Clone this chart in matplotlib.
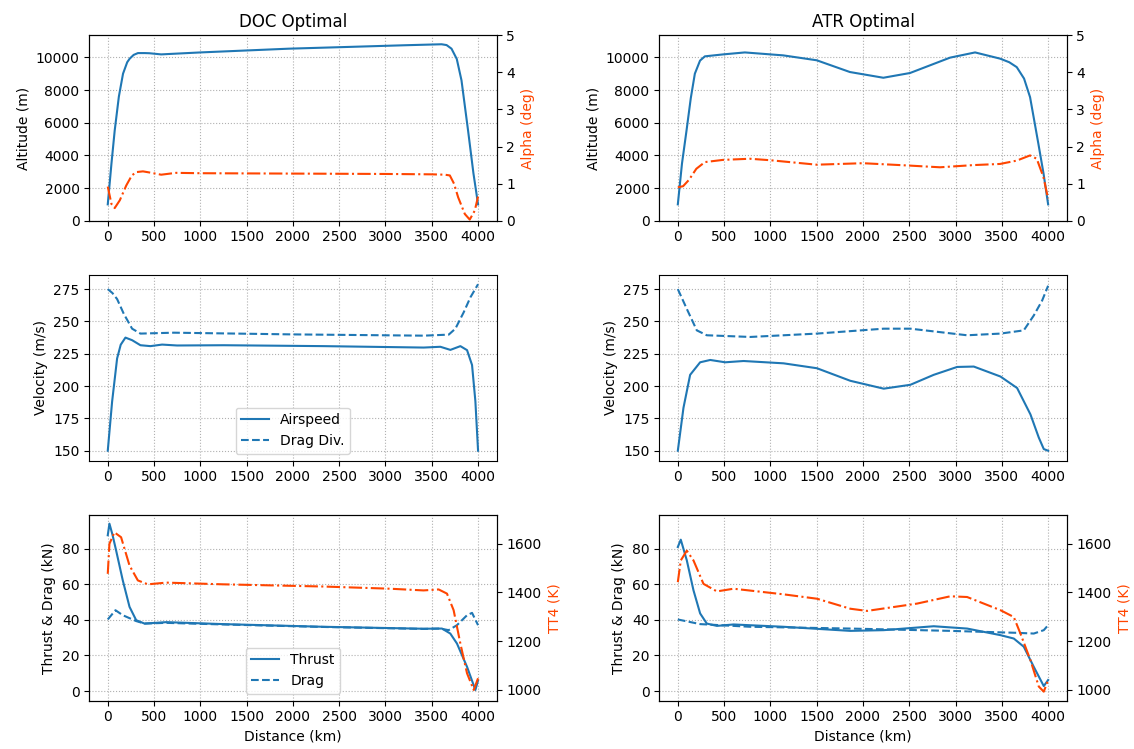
import numpy as np
import matplotlib
matplotlib.use('Agg')
import matplotlib.pyplot as plt

# ---- DOC optimal ----
doc_alt_x = [0, 40, 75, 120, 165, 210, 237, 280, 326, 400, 450, 577, 1000, 1957, 2500, 3211, 3606, 3660, 3713, 3770, 3821, 3892, 3950, 4000]
doc_alt = [1000, 3500, 5520, 7600, 9000, 9700, 9920, 10150, 10260, 10260, 10250, 10180, 10300, 10530, 10620, 10740, 10800, 10750, 10530, 9900, 8590, 5520, 2900, 1000]
doc_alpha_x = [0, 40, 75, 130, 200, 260, 308, 380, 450, 577, 738, 1000, 2000, 3000, 3500, 3642, 3695, 3740, 3785, 3857, 3910, 3964, 4000]
doc_alpha = [0.92, 0.45, 0.34, 0.55, 0.95, 1.22, 1.31, 1.33, 1.30, 1.24, 1.29, 1.28, 1.27, 1.26, 1.25, 1.24, 1.22, 1.0, 0.63, 0.18, 0.03, 0.27, 0.65]

doc_vel_x = [0, 47, 101, 140, 191, 263, 353, 461, 587, 749, 1253, 2333, 3413, 3593, 3701, 3809, 3881, 3935, 3971, 4000]
doc_vel = [150, 188, 221.4, 232, 237.5, 235.5, 231.6, 230.9, 232.1, 231.4, 231.6, 230.9, 229.8, 230.4, 228, 230.9, 227.8, 216.3, 188.3, 150]
doc_dd_x = [0, 50, 101, 173, 263, 353, 713, 1973, 3413, 3683, 3755, 3845, 3917, 4000]
doc_dd = [275, 272, 267.3, 255.9, 244.4, 240.6, 241.3, 240, 239, 239.8, 244.4, 257.1, 268.6, 278.8]

doc_thr_x = [0, 18, 50, 90, 162, 235, 307, 397, 632, 1245, 2328, 3411, 3610, 3700, 3772, 3881, 3971, 4000]
doc_thr = [87.5, 94, 88, 79, 62.2, 47.3, 39.8, 37.9, 38.7, 37.6, 36.1, 35, 35.1, 32.3, 26.7, 13.6, 0.6, 6]
doc_drag_x = [0, 83, 162, 307, 397, 632, 1245, 2328, 3411, 3592, 3682, 3772, 3881, 3935, 4000]
doc_drag = [40.2, 45.4, 42.6, 39.3, 37.9, 38.3, 37.4, 36, 34.9, 35.1, 34.2, 37, 42.6, 43.9, 37]
doc_tt4_x = [0, 18, 72, 144, 235, 325, 433, 632, 1245, 2328, 3050, 3411, 3574, 3664, 3736, 3809, 3881, 3953, 4000]
doc_tt4 = [1476, 1599, 1646, 1626, 1510, 1449, 1433, 1440, 1433, 1424, 1415, 1408, 1412, 1395, 1327, 1190, 1068, 1000, 1048]

# ---- ATR optimal ----
atr_alt_x = [0, 45, 94, 140, 184, 240, 292, 490, 724, 1138, 1500, 1859, 2220, 2508, 2940, 3211, 3481, 3580, 3661, 3740, 3805, 3895, 3950, 4000]
atr_alt = [1000, 3500, 5520, 7500, 9000, 9800, 10060, 10180, 10300, 10120, 9820, 9100, 8750, 9040, 9980, 10300, 9920, 9700, 9400, 8700, 7560, 4700, 2900, 1000]
atr_alpha_x = [0, 57, 120, 200, 292, 490, 778, 1000, 1500, 2000, 2472, 2832, 3200, 3481, 3661, 3805, 3877, 3950, 4000]
atr_alpha = [0.9, 0.93, 1.1, 1.4, 1.58, 1.64, 1.67, 1.63, 1.51, 1.55, 1.49, 1.44, 1.5, 1.53, 1.62, 1.76, 1.67, 1.17, 0.59]

atr_vel_x = [0, 61, 133, 241, 350, 512, 710, 1142, 1503, 1863, 2224, 2512, 2764, 3017, 3197, 3485, 3665, 3809, 3899, 3953, 4000]
atr_vel = [150, 183.2, 208.7, 218.4, 220.2, 218.4, 219.4, 217.6, 213.8, 204.1, 198, 201, 208.7, 214.8, 215.1, 207.4, 198.5, 178.1, 160.2, 151.3, 150]
atr_dd_x = [0, 97, 205, 313, 782, 1503, 2224, 2512, 3125, 3485, 3737, 3845, 3935, 4000]
atr_dd = [275, 259.7, 243.1, 239.3, 238, 240.6, 244.4, 244.4, 239.3, 240.6, 243.1, 254.6, 266.1, 277.6]

atr_thr_x = [0, 32, 97, 169, 241, 313, 422, 602, 1142, 1863, 2224, 2764, 3125, 3485, 3629, 3737, 3845, 3953, 4000]
atr_thr = [80.9, 85, 73.4, 56.6, 43.6, 37.9, 36.6, 37.4, 36.1, 33.8, 34.2, 36.4, 35.1, 31.4, 29.5, 24.9, 13.6, 2.8, 6.2]
atr_drag_x = [0, 241, 782, 1863, 2944, 3665, 3845, 3953, 4000]
atr_drag = [40.2, 37.6, 36.1, 35.1, 33.8, 32.7, 32.3, 34.2, 37]
atr_tt4_x = [0, 32, 97, 169, 277, 422, 602, 1142, 1503, 1863, 2044, 2584, 2944, 3125, 3485, 3629, 3701, 3809, 3899, 3953, 4000]
atr_tt4 = [1442, 1531, 1571, 1531, 1435, 1404, 1415, 1392, 1374, 1333, 1324, 1354, 1384, 1381, 1327, 1299, 1231, 1122, 1014, 993, 1041]

blue = '#1f77b4'
red = 'orangered'

fig, axes = plt.subplots(3, 2, figsize=(11.34, 7.49), dpi=100)
plt.subplots_adjust(left=0.0787, right=0.9406, bottom=0.0645, top=0.9529, wspace=0.3995, hspace=0.2945)

cases = [
    ('DOC Optimal', doc_alt_x, doc_alt, doc_alpha_x, doc_alpha, doc_vel_x, doc_vel, doc_dd_x, doc_dd,
     doc_thr_x, doc_thr, doc_drag_x, doc_drag, doc_tt4_x, doc_tt4),
    ('ATR Optimal', atr_alt_x, atr_alt, atr_alpha_x, atr_alpha, atr_vel_x, atr_vel, atr_dd_x, atr_dd,
     atr_thr_x, atr_thr, atr_drag_x, atr_drag, atr_tt4_x, atr_tt4),
]

for col, (title, ax_, a, alx, al, vx, v, ddx, dd, tx, t, dx, d, ttx, tt) in enumerate(cases):
    # altitude + alpha
    ax = axes[0, col]
    ax.plot(ax_, a, color=blue)
    ax.set_ylim(0, 11350)
    ax.set_ylabel('Altitude (m)')
    ax.set_title(title)
    ax.grid(linestyle=':')
    ax2 = ax.twinx()
    ax2.plot(alx, al, color=red, linestyle='-.')
    ax2.set_ylim(0, 5)
    ax2.set_ylabel('Alpha (deg)', color=red)

    # velocity
    ax = axes[1, col]
    ax.plot(vx, v, color=blue, label='Airspeed')
    ax.plot(ddx, dd, color=blue, linestyle='--', label='Drag Div.')
    ax.set_ylim(142.3, 285.7)
    ax.set_ylabel('Velocity (m/s)')
    ax.grid(linestyle=':')
    if col == 0:
        ax.legend(loc='lower center')

    # thrust/drag + TT4
    ax = axes[2, col]
    ax.plot(tx, t, color=blue, label='Thrust')
    ax.plot(dx, d, color=blue, linestyle='--', label='Drag')
    ax.set_ylim(-5.4, 98.7)
    ax.set_ylabel('Thrust & Drag (kN)')
    ax.set_xlabel('Distance (km)')
    ax.grid(linestyle=':')
    if col == 0:
        ax.legend(loc='lower center')
    ax2 = ax.twinx()
    ax2.plot(ttx, tt, color=red, linestyle='-.')
    ax2.set_ylim(956, 1716)
    ax2.set_ylabel('TT4 (K)', color=red)

for ax in axes.flat:
    ax.set_xticks(np.arange(0, 4001, 500))

plt.savefig('out.png')
